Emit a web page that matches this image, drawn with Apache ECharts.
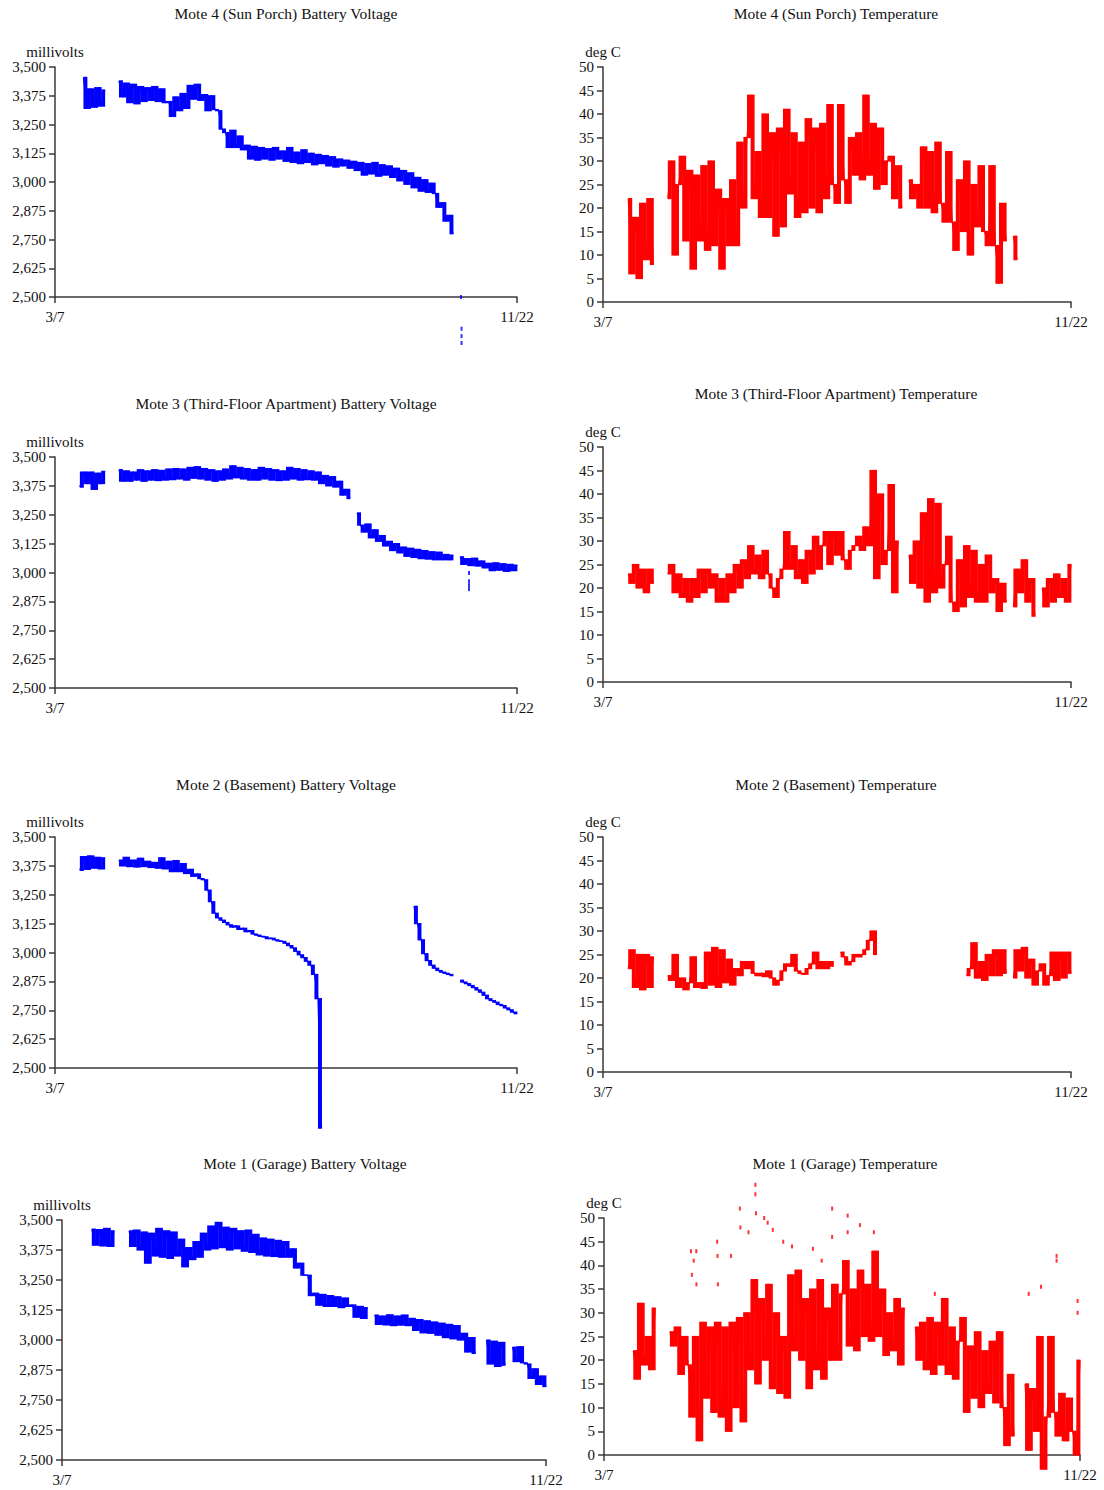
<!DOCTYPE html>
<html>
<head>
<meta charset="utf-8">
<script src="https://cdn.jsdelivr.net/npm/echarts@6/dist/echarts.min.js"></script>
<style>
  html, body { margin: 0; padding: 0; background: #fff; }
  #chart { width: 1104px; height: 1490px; }
</style>
</head>
<body>
<div id="chart"></div>
<script>
// every series is sampled every 2 days, day 0 = 3/7, day 260 = 11/22
// readings alternate between the low and the high edge of the plotted band
const STEP = 2
const xLabels = ['3/7', '11/22']

// Mote 4 (Sun Porch)
const porchVolt = [
  null, null, null, null, null, null, null, null, 3455, 3320,
  3405, 3325, 3410, 3330, 3400, null, null, null, 3440, 3370,
  3430, 3345, 3425, 3340, 3415, 3350, 3410, 3355, 3415, 3350,
  3405, 3345, 3350, 3285, 3370, 3310, 3385, 3320, 3420, 3360,
  3425, 3355, 3380, 3310, 3375, 3315, 3310, 3230, 3215, 3150,
  3225, 3150, 3200, 3140, 3160, 3100, 3155, 3095, 3150, 3100,
  3145, 3095, 3150, 3100, 3135, 3090, 3150, 3085, 3130, 3080,
  3140, 3085, 3125, 3075, 3120, 3080, 3115, 3070, 3110, 3065,
  3100, 3070, 3095, 3060, 3090, 3050, 3085, 3030, 3080, 3035,
  3085, 3025, 3075, 3030, 3070, 3020, 3060, 3005, 3050, 2990,
  3040, 2975, 3020, 2960, 3010, 2955, 2995, 2950, 2890, 2910,
  2830, 2855, 2775, null, null, null, null, null, null, null,
  null, null, null, null, null, null, null, null, null, null,
  null
]
const porchVoltOutDays = [228.5, 228.8, 228.8, 228.8]
const porchVoltOutValues = [2500, 2362, 2330, 2300]

const porchTemp = [
  null, null, null, null, null, null, null, 22, 6, 18,
  5, 21, 9, 22, 8, null, null, null, 22, 30,
  10, 25, 31, 13, 28, 7, 27, 13, 29, 11,
  30, 12, 24, 7, 22, 12, 26, 12, 34, 20,
  35, 44, 22, 32, 18, 40, 18, 36, 14, 37,
  16, 41, 23, 36, 18, 34, 19, 39, 20, 37,
  19, 38, 22, 42, 25, 21, 42, 26, 21, 35,
  27, 36, 26, 44, 27, 38, 24, 37, 25, 30,
  31, 22, 29, 20, null, 26, 22, 25, 20, 33,
  20, 32, 19, 34, 21, 17, 32, 17, 11, 26,
  15, 30, 10, 25, 16, 29, 15, 12, 29, 12,
  4, 21, 13, null, 14, 9, null, null, null, null,
  null, null, null, null, null, null, null, null, null, null,
  null
]

// Mote 3 (Third-Floor Apartment)
const aptVolt = [
  null, null, null, null, null, null, null, 3370, 3435, 3385,
  3435, 3360, 3430, 3385, 3438, null, null, null, 3445, 3395,
  3440, 3395, 3435, 3400, 3445, 3395, 3440, 3400, 3445, 3398,
  3442, 3400, 3448, 3402, 3450, 3405, 3448, 3400, 3455, 3408,
  3458, 3405, 3450, 3400, 3445, 3395, 3440, 3400, 3448, 3405,
  3462, 3410, 3455, 3405, 3450, 3400, 3445, 3400, 3455, 3405,
  3450, 3400, 3445, 3398, 3440, 3400, 3455, 3405, 3450, 3400,
  3445, 3402, 3440, 3400, 3435, 3385, 3420, 3375, 3415, 3370,
  3395, 3335, 3360, 3320, null, 3258, 3205, 3175, 3210, 3150,
  3185, 3135, 3160, 3115, 3135, 3095, 3125, 3085, 3110, 3070,
  3105, 3065, 3100, 3060, 3095, 3058, 3090, 3055, 3088, 3055,
  3078, 3055, 3075, null, 3068, 3035, 3060, 3030, 3062, 3028,
  3050, 3020, 3040, 3008, 3042, 3010, 3038, 3005, 3035, 3008,
  3032
]
const aptVoltOutDays = [233, 233, 233, 233]
const aptVoltOutValues = [2998, 2962, 2945, 2928]

const aptTemp = [
  null, null, null, null, null, null, null, 23, 21, 25,
  20, 24, 19, 24, 21, null, null, null, 23, 25,
  19, 23, 18, 22, 17, 22, 18, 24, 19, 24,
  20, 23, 17, 22, 17, 23, 19, 25, 20, 26,
  22, 29, 23, 27, 22, 28, 23, 20, 18, 22,
  24, 32, 24, 29, 22, 26, 21, 28, 23, 31,
  24, 29, 32, 25, 32, 27, 32, 26, 24, 28,
  29, 31, 28, 33, 29, 45, 22, 40, 25, 28,
  42, 19, 30, null, null, 27, 21, 30, 20, 36,
  17, 39, 19, 38, 20, 25, 31, 17, 15, 26,
  16, 29, 18, 28, 17, 25, 17, 27, 19, 22,
  15, 21, 17, null, 16, 24, 19, 26, 17, 22,
  14, null, 20, 16, 22, 17, 23, 18, 22, 17,
  25
]

// Mote 2 (Basement)
const baseVolt = [
  null, null, null, null, null, null, null, 3355, 3415, 3360,
  3418, 3365, 3412, 3362, 3410, null, null, null, 3400, 3375,
  3412, 3372, 3400, 3370, 3408, 3372, 3395, 3368, 3390, 3365,
  3410, 3362, 3395, 3350, 3398, 3350, 3385, 3342, 3360, 3330,
  3340, 3320, 3315, 3270, 3220, 3170, 3150, 3140, 3130, 3120,
  3110, 3115, 3100, 3105, 3090, 3095, 3080, 3075, 3070, 3068,
  3060, 3062, 3055, 3050, 3048, 3040, 3030, 3020, 3005, 2990,
  2978, 2962, 2945, 2905, 2800, 2240, null, null, null, null,
  null, null, null, null, null, null, null, null, null, null,
  null, null, null, null, null, null, null, null, null, null,
  null, 3200, 3125, 3055, 2995, 2965, 2945, 2932, 2922, 2915,
  2910, 2905, 2900, null, 2880, 2872, 2865, 2857, 2848, 2838,
  2828, 2815, 2800, 2792, 2785, 2775, 2770, 2760, 2752, 2742,
  2735
]

const baseTemp = [
  null, null, null, null, null, null, null, 22, 26, 18,
  25, 17.5, 25, 18, 24.5, null, null, null, 20.5, 19.5,
  25, 18, 20, 17.5, 19, 24.5, 18, 19, 17.8, 25.5,
  18.5, 26.5, 18, 26, 19, 24, 18.5, 22, 20.5, 23.5,
  22, 23.5, 21, 20.5, 21, 20.3, 21.5, 20, 18.5, 19.5,
  21.5, 23, 22.5, 25, 21.5, 21, 20.8, 22, 23, 25.5,
  22, 23.5, 22, 23.5, 22.5, null, 25.5, 24.5, 22.8, 23.5,
  25, 24.5, 25, 26, 28, 30, 25, null, null, null,
  null, null, null, null, null, null, null, null, null, null,
  null, null, null, null, null, null, null, null, null, null,
  null, 20.5, 22, 27.5, 20, 23.5, 19.5, 25, 20.5, 26,
  20.5, 26, 21, null, 20, 26, 21.5, 26.5, 20, 24,
  18.5, 21.5, 23, 18.5, 20.5, 25.5, 19.5, 25.5, 20, 25.5,
  21
]

// Mote 1 (Garage)
const garageVolt = [
  null, null, null, null, null, null, null, null, 3462, 3395,
  3460, 3392, 3465, 3390, 3455, null, null, null, 3455, 3390,
  3458, 3375, 3450, 3320, 3445, 3350, 3465, 3345, 3455, 3340,
  3450, 3350, 3420, 3305, 3385, 3335, 3410, 3345, 3445, 3375,
  3475, 3380, 3490, 3385, 3470, 3375, 3465, 3380, 3455, 3370,
  3458, 3365, 3440, 3355, 3425, 3350, 3420, 3348, 3415, 3345,
  3410, 3345, 3380, 3300, 3320, 3270, 3270, 3185, 3195, 3145,
  3190, 3140, 3185, 3140, 3180, 3135, 3175, 3140, 3146, 3095,
  3140, 3090, 3135, null, 3104, 3065, 3100, 3063, 3105, 3060,
  3100, 3062, 3104, 3060, 3090, 3040, 3085, 3030, 3080, 3028,
  3075, 3020, 3070, 3010, 3065, 3005, 3060, 3000, 3028, 2950,
  3010, 2944, null, null, 3000, 2900, 2995, 2890, 2990, 2895,
  null, 2970, 2910, 2972, 2905, 2900, 2840, 2880, 2815, 2850,
  2806
]

const garageTemp = [
  null, null, null, null, null, null, null, null, 22, 16,
  32, 19, 25, 18, 31, null, null, null, 26, 23,
  27, 17, 25, 19, 8, 25, 3, 28, 12, 27,
  9, 28, 8, 27, 5, 28, 10, 29, 7, 30,
  18, 37, 15, 33, 20, 36, 14, 30, 13, 25,
  12, 38, 22, 39, 20, 33, 14, 35, 18, 37,
  16, 31, 20, 36, 20, 34, 41, 23, 35, 22,
  39, 25, 36, 24, 43, 25, 35, 21, 30, 22,
  33, 19, 31, null, null, 27, 20, 28, 18, 29,
  17, 28, 19, 33, 17, 27, 16, 24, 29, 9,
  23, 12, 26, 10, 22, 13, 24, 11, 26, 10,
  2, 17, 4, null, null, 15, 1, 14, 5, 25,
  -3, 8, 25, 9, 4, 13, 3, 12, 5, 0,
  20
]
const garageTempOutDays = [
  47.5, 48, 49, 50.4, 50.5, 61.8, 62, 62.2, 69.4, 74.2, 74.5, 78.9, 82.7, 82.7, 83,
  87.5, 89.4, 92.2, 97.9, 102.7, 114.1, 118.9, 124.6, 124.6, 133.1, 133.1, 139.8,
  147.4, 180.7, 232, 238.7, 247.2, 247.2, 258.7, 258.7
]
const garageTempOutValues = [
  43, 38, 41, 43, 36, 45, 42, 36, 42, 52, 48, 47, 57, 55, 51,
  50, 49, 47.5, 45, 44, 43.5, 41, 52, 46, 50.5, 47, 48.5,
  47, 34, 34, 35.5, 42, 41, 32.5, 30
]

const font = { fontFamily: 'Liberation Serif', fontSize: 15, color: '#111' }
const lineColor = '#3a3a3a'
const BLUE = '#0000ff'
const RED = '#ff0000'

const voltScale = { min: 2500, max: 3500, interval: 125, name: 'millivolts', nameGap: 1 }
const tempScale = { min: 0, max: 50, interval: 5, name: 'deg C', nameGap: -3 }

const panels = [
  { title: 'Mote 4 (Sun Porch) Battery Voltage', cx: 286, cy: 13, grid: { left: 55, top: 67, width: 462, height: 230 }, scale: voltScale, values: porchVolt, color: BLUE, out: [porchVoltOutDays, porchVoltOutValues] },
  { title: 'Mote 4 (Sun Porch) Temperature', cx: 836, cy: 13, grid: { left: 603, top: 67, width: 468, height: 235 }, scale: tempScale, values: porchTemp, color: RED },
  { title: 'Mote 3 (Third-Floor Apartment) Battery Voltage', cx: 286, cy: 403, grid: { left: 55, top: 457, width: 462, height: 231 }, scale: voltScale, values: aptVolt, color: BLUE, out: [aptVoltOutDays, aptVoltOutValues] },
  { title: 'Mote 3 (Third-Floor Apartment) Temperature', cx: 836, cy: 393, grid: { left: 603, top: 447, width: 468, height: 235 }, scale: tempScale, values: aptTemp, color: RED },
  { title: 'Mote 2 (Basement) Battery Voltage', cx: 286, cy: 784, grid: { left: 55, top: 837, width: 462, height: 231 }, scale: voltScale, values: baseVolt, color: BLUE },
  { title: 'Mote 2 (Basement) Temperature', cx: 836, cy: 784, grid: { left: 603, top: 837, width: 468, height: 235 }, scale: tempScale, values: baseTemp, color: RED },
  { title: 'Mote 1 (Garage) Battery Voltage', cx: 305, cy: 1163, grid: { left: 62, top: 1220, width: 484, height: 240 }, scale: voltScale, values: garageVolt, color: BLUE },
  { title: 'Mote 1 (Garage) Temperature', cx: 845, cy: 1163, grid: { left: 604, top: 1218, width: 476, height: 237 }, scale: tempScale, values: garageTemp, color: RED, out: [garageTempOutDays, garageTempOutValues] },
]

const toPoints = (values) => values.map((v, i) => [i * STEP, v])
const toPairs = (days, values) => days.map((d, i) => [d, values[i]])
// one vertical span between each pair of neighbouring readings
const toSpans = (values) => {
  const spans = []
  for (let i = 0; i + 1 < values.length; i++) {
    const a = values[i]
    const b = values[i + 1]
    if (a == null || b == null) continue
    spans.push([i * STEP, Math.min(a, b), Math.max(a, b)])
  }
  return spans
}
const thousands = (v) => String(v).replace(/\B(?=(\d{3})+(?!\d))/g, ',')

const axisLine = { show: true, lineStyle: { color: lineColor, width: 1.5 } }
const axisTick = { show: true, length: 6, lineStyle: { color: lineColor, width: 1.5 } }

const series = []
panels.forEach((p, i) => {
  series.push({
    type: 'custom',
    xAxisIndex: i,
    yAxisIndex: i,
    data: toSpans(p.values),
    clip: false,
    silent: true,
    renderItem: (params, api) => {
      const top = api.coord([api.value(0), api.value(2)])
      const bottom = api.coord([api.value(0) + STEP, api.value(1)])
      return {
        type: 'rect',
        shape: { x: top[0], y: top[1] - 0.6, width: bottom[0] - top[0] + 0.4, height: bottom[1] - top[1] + 1.2 },
        style: { fill: p.color },
      }
    },
  })
  series.push({
    type: 'line',
    xAxisIndex: i,
    yAxisIndex: i,
    data: toPoints(p.values),
    showSymbol: false,
    symbol: 'none',
    connectNulls: false,
    clip: false,
    silent: true,
    lineStyle: { color: p.color, width: 1.2 },
  })
  if (p.out) {
    series.push({
      type: 'scatter',
      xAxisIndex: i,
      yAxisIndex: i,
      data: toPairs(p.out[0], p.out[1]),
      symbol: 'rect',
      symbolSize: [2, 4],
      clip: false,
      silent: true,
      itemStyle: { color: p.color },
    })
  }
})

const option = {
  animation: false,
  backgroundColor: '#fff',
  title: panels.map((p) => ({
    text: p.title,
    left: p.cx,
    top: p.cy,
    textAlign: 'center',
    textVerticalAlign: 'middle',
    padding: 0,
    textStyle: { ...font, fontSize: 15.5, fontWeight: 'normal' },
  })),
  grid: panels.map((p) => ({ ...p.grid, containLabel: false, outerBoundsMode: 'none' })),
  xAxis: panels.map((p, i) => ({
    gridIndex: i,
    type: 'value',
    min: 0,
    max: 260,
    interval: 260,
    axisLine,
    axisTick,
    splitLine: { show: false },
    axisLabel: { ...font, margin: 12, formatter: (v) => (v === 0 ? xLabels[0] : xLabels[1]) },
  })),
  yAxis: panels.map((p, i) => ({
    gridIndex: i,
    type: 'value',
    min: p.scale.min,
    max: p.scale.max,
    interval: p.scale.interval,
    name: p.scale.name,
    nameLocation: 'end',
    nameGap: p.scale.nameGap,
    nameTextStyle: { ...font },
    axisLine,
    axisTick,
    splitLine: { show: false },
    axisLabel: { ...font, margin: 9, formatter: (v) => thousands(v) },
  })),
  series,
}

const chart = echarts.init(document.getElementById('chart'), null, { renderer: 'svg' })
chart.setOption(option)
</script>
</body>
</html>
